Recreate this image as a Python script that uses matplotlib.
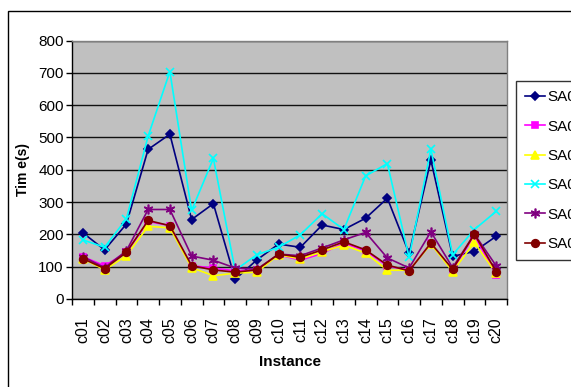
import matplotlib
matplotlib.use("Agg")
import matplotlib.pyplot as plt
from matplotlib.patches import Rectangle

categories = ["c01", "c02", "c03", "c04", "c05", "c06", "c07", "c08", "c09", "c10",
              "c11", "c12", "c13", "c14", "c15", "c16", "c17", "c18", "c19", "c20"]

sa01 = [205, 152, 232, 463, 510, 246, 295, 61, 121, 170,
        160, 229, 215, 250, 312, 141, 430, 132, 147, 194]
sa02 = [131, 103, 144, 240, 227, 103, 96, 87, 90, 137,
        120, 141, 173, 149, 102, 89, 173, 90, 196, 74]
sa03 = [125, 90, 134, 225, 220, 97, 72, 80, 83, 137,
        124, 146, 167, 142, 89, 89, 170, 85, 175, 79]
sa04 = [183, 160, 248, 504, 704, 274, 435, 89, 137, 160,
        199, 264, 215, 381, 419, 129, 464, 137, 215, 271]
sa05 = [131, 97, 149, 277, 277, 133, 120, 96, 92, 139,
        134, 158, 183, 206, 127, 96, 208, 97, 201, 103]
sa06 = [125, 94, 144, 243, 227, 103, 90, 83, 90, 139,
        129, 152, 177, 152, 105, 87, 173, 92, 201, 85]

series_names = ["SA01", "SA02", "SA03", "SA04", "SA05", "SA06"]
yticks = [0, 100, 200, 300, 400, 500, 600, 700, 800]

narrow = ["Liberation Sans Narrow", "Liberation Sans", "DejaVu Sans"]
plain = ["Liberation Sans", "DejaVu Sans"]

fig = plt.figure(figsize=(5.71, 3.87), dpi=100)
fig.patch.set_facecolor("white")

# outer chart frame (runs off the right and bottom edges)
fig.add_artist(Rectangle((8 / 571, -0.05), 1.0, 1 - 11 / 387 + 0.05,
                         transform=fig.transFigure, fill=False,
                         edgecolor="black", linewidth=1.0))

ax = fig.add_axes([72 / 571, 1 - 299 / 387, 435 / 571, 258.5 / 387])
ax.set_facecolor("#C0C0C0")

x = list(range(len(categories)))
styles = [
    (sa01, "#000080", "D", 4.5),
    (sa02, "#FF00FF", "s", 5),
    (sa03, "#FFFF00", "^", 6),
    (sa04, "#00FFFF", "x", 6),
    (sa05, "#800080", (6, 2, 0), 7),
    (sa06, "#800000", "o", 5.5),
]
for (vals, col, mk, ms), name in zip(styles, series_names):
    ax.plot(x, vals, color=col, marker=mk, markersize=ms, linewidth=1.2,
            markeredgecolor=col, markerfacecolor=col, markeredgewidth=1.2,
            label=name, zorder=3)

ax.set_xlim(-0.5, len(categories) - 0.5)
ax.set_ylim(0, 800)
ax.set_yticks(yticks)
ax.set_yticklabels([str(v) for v in yticks], fontfamily=narrow, fontsize=11)
ax.yaxis.grid(True, color="#111111", linewidth=1.0)
ax.set_axisbelow(True)

ax.set_xticks(x)
ax.set_xticklabels(categories, rotation=90, fontfamily=plain, fontsize=11.5)
ax.set_xticks([i - 0.5 for i in range(len(categories) + 1)], minor=True)
ax.tick_params(axis="x", which="major", length=0, pad=13)
ax.tick_params(axis="x", which="minor", length=4, direction="out", width=1)
ax.tick_params(axis="y", length=4, direction="out", width=1, pad=2)

for side in ["top", "right"]:
    ax.spines[side].set_color("#808080")
    ax.spines[side].set_linewidth(1)
for side in ["left", "bottom"]:
    ax.spines[side].set_color("black")
    ax.spines[side].set_linewidth(1)

ax.set_ylabel("Tim e(s)", fontfamily=plain, fontsize=10, fontweight="bold", labelpad=6)
ax.set_xlabel("Instance", fontfamily=narrow, fontsize=11, fontweight="bold", labelpad=9)

leg = fig.legend(loc="upper left", bbox_to_anchor=(516 / 571, 1 - 81 / 387),
                 frameon=True, fancybox=False, edgecolor="black",
                 prop={"family": plain, "size": 11}, labelspacing=1.0,
                 handlelength=1.3, handletextpad=0.15, borderpad=0.62,
                 borderaxespad=0)
leg.get_frame().set_linewidth(1)

fig.savefig("out.png", dpi=100)
